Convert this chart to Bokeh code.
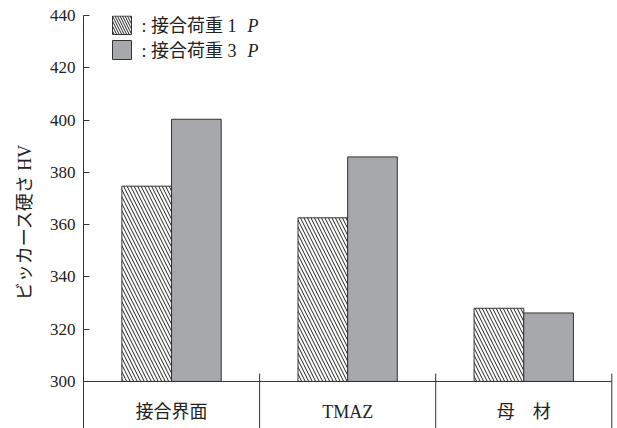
from bokeh.plotting import figure
from bokeh.models import Range1d, FixedTicker, Label, BoxAnnotation, ColumnDataSource
from bokeh.core.properties import value
from bokeh.embed import file_html
from bokeh.resources import INLINE

# ---- data ----
categories = ["接合界面", "TMAZ", "母\u3000材"]
load_1p = [374.7, 362.6, 328.0]
load_3p = [400.3, 385.9, 326.2]
y_ticks = [300, 320, 340, 360, 380, 400, 420, 440]
legend_labels = [": 接合荷重 1", ": 接合荷重 3"]
y_label = "ビッカース硬さ HV"

# ---- layout constants ----
W, H = 617, 428
FRAME_LEFT, FRAME_TOP = 83, 15
PX_X = 176.1          # pixels per category
PX_Y = 2.614          # pixels per HV unit
Y_TOP = 440
Y_BOTTOM = Y_TOP - (H - FRAME_TOP) / PX_Y
X_RIGHT = (W - FRAME_LEFT) / PX_X
BASE = 300
BAR_W = 0.282

def sx(px):
    return (px - FRAME_LEFT) / PX_X

def sy(py):
    return Y_TOP - (py - FRAME_TOP) / PX_Y

SERIF_CJK = "'Liberation Serif', 'Noto Sans CJK JP'"
DARK = "#333333"
GRAY = "#a7a8ac"
HATCH_SCALE = 7

p = figure(width=W, height=H, output_backend="svg", toolbar_location=None,
           x_range=Range1d(0, X_RIGHT), y_range=Range1d(Y_BOTTOM, Y_TOP),
           x_axis_location=None, min_border_left=FRAME_LEFT, min_border_top=FRAME_TOP,
           min_border_right=0, min_border_bottom=0)
p.outline_line_color = None
p.grid.visible = False
p.background_fill_color = "white"
p.border_fill_color = "white"

# y axis
ax = p.yaxis[0]
ax.ticker = FixedTicker(ticks=y_ticks)
ax.major_tick_in = 6
ax.major_tick_out = 0
ax.minor_tick_line_color = None
ax.axis_line_color = DARK
ax.major_tick_line_color = DARK
ax.major_label_text_font = SERIF_CJK
ax.major_label_text_font_size = "17px"
ax.major_label_text_color = "#222222"
ax.major_label_standoff = 8
ax.axis_label = y_label
ax.axis_label_text_font = SERIF_CJK
ax.axis_label_text_font_style = "normal"
ax.axis_label_text_font_size = "18px"
ax.axis_label_text_color = "#222222"
ax.axis_label_standoff = 12

# bars
centers = [i + 0.5 for i in range(len(categories))]
src = ColumnDataSource(dict(
    x1=[c - BAR_W / 2 for c in centers],
    x3=[c + BAR_W / 2 for c in centers],
    v1=load_1p, v3=load_3p, base=[BASE] * len(categories)))

p.vbar(x="x1", top="v1", bottom="base", width=BAR_W, source=src,
       fill_color="white", line_color=DARK, line_width=1,
       hatch_pattern="\\", hatch_color="#222222", hatch_weight=1, hatch_scale=HATCH_SCALE)
p.vbar(x="x3", top="v3", bottom="base", width=BAR_W, source=src,
       fill_color=GRAY, line_color=DARK, line_width=1)

# category axis line and separators
n = len(categories)
p.segment(x0=[0], x1=[n], y0=[BASE], y1=[BASE], line_color=DARK, line_width=1)
p.segment(x0=list(range(1, n + 1)), x1=list(range(1, n + 1)),
          y0=[sy(373)] * n, y1=[Y_BOTTOM] * n, line_color=DARK, line_width=1)

# category labels
p.text(x=centers, y=[sy(411.5)] * n, text=categories,
       text_align="center", text_baseline="middle",
       text_font=value(SERIF_CJK), text_font_size="18px", text_color="#222222")

# legend (manual, to allow italic P)
p.add_layout(BoxAnnotation(left=sx(112), right=sx(131), top=sy(15.5), bottom=sy(34),
                           fill_color="white", fill_alpha=1, line_color=DARK, line_alpha=1,
                           line_width=1, hatch_pattern="\\", hatch_color="#222222",
                           hatch_weight=1, hatch_scale=5, hatch_alpha=1))
p.add_layout(BoxAnnotation(left=sx(112), right=sx(131), top=sy(40), bottom=sy(59),
                           fill_color=GRAY, fill_alpha=1, line_color=DARK, line_alpha=1,
                           line_width=1))
for lab, py in zip(legend_labels, [25, 50]):
    p.add_layout(Label(x=sx(141), y=sy(py), text=lab, text_font=SERIF_CJK,
                       text_font_size="18px", text_baseline="middle", text_color="#222222"))
    p.add_layout(Label(x=sx(247), y=sy(py), text="P", text_font=SERIF_CJK,
                       text_font_style="italic", text_font_size="18px",
                       text_baseline="middle", text_color="#222222"))

open("out.html", "w").write(file_html(p, INLINE))
